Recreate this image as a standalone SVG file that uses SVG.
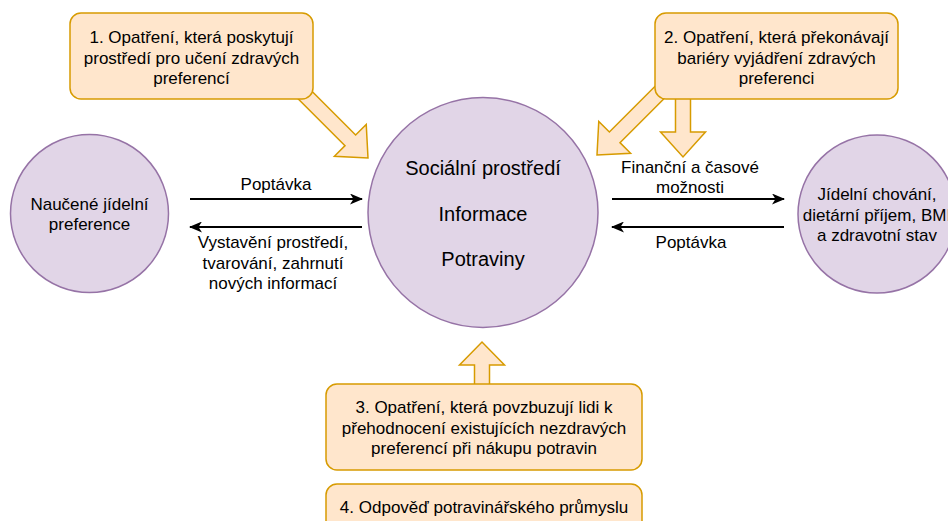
<svg xmlns="http://www.w3.org/2000/svg" width="948" height="521" viewBox="0 0 948 521">
<style>
  .circle { fill: #e1d5e7; stroke: #9673a6; stroke-width: 1.5; }
  .box { fill: #ffe6cc; stroke: #d79b00; stroke-width: 1.5; }
  .barrow { fill: #ffe6cc; stroke: #d79b00; stroke-width: 1.5; stroke-linejoin: miter; }
  .conn { fill: none; stroke: #000; stroke-width: 2; }
  text { font-family: "Liberation Sans", Arial, sans-serif; font-size: 17px; fill: #000; text-anchor: middle; }
  .big { font-size: 20px; }
</style>
<defs>
  <marker id="ah" markerUnits="userSpaceOnUse" markerWidth="13" markerHeight="11" viewBox="0 0 13 11" refX="12" refY="5.5" orient="auto">
    <path d="M0,0 L13,5.5 L0,11 L3.5,5.5 z" fill="#000"/>
  </marker>
  <polygon id="ba96" points="-96,-7.5 -25,-7.5 -25,-22.5 0,0 -25,22.5 -25,7.5 -96,7.5"/>
</defs>

<g id="block-arrows">
  <polygon class="barrow" transform="translate(368,158) rotate(45)" points="-96,-7.5 -25,-7.5 -25,-22.5 0,0 -25,22.5 -25,7.5 -96,7.5"/>
  <polygon class="barrow" transform="translate(597,155) rotate(135)" points="-96,-7.5 -25,-7.5 -25,-22.5 0,0 -25,22.5 -25,7.5 -96,7.5"/>
  <polygon class="barrow" transform="translate(683,157) rotate(90)" points="-67,-7.5 -25,-7.5 -25,-22.5 0,0 -25,22.5 -25,7.5 -67,7.5"/>
  <polygon class="barrow" transform="translate(482,342) rotate(-90)" points="-48,-7.5 -23,-7.5 -23,-22.5 0,0 -23,22.5 -23,7.5 -48,7.5"/>
</g>

<g id="box1">
  <rect class="box" x="70" y="13" width="243" height="86" rx="11"/>
  <text x="191.5" y="43">1. Opatření, která poskytují</text>
  <text x="191.5" y="63.5">prostředí pro učení zdravých</text>
  <text x="191.5" y="84">preferencí</text>
</g>

<g id="box2">
  <rect class="box" x="655" y="13" width="243" height="86" rx="11"/>
  <text x="776.5" y="43">2. Opatření, která překonávají</text>
  <text x="776.5" y="63.5">bariéry vyjádření zdravých</text>
  <text x="776.5" y="84">preferenci</text>
</g>

<g id="box3">
  <rect class="box" x="326" y="384" width="316" height="86" rx="11"/>
  <text x="484" y="413">3. Opatření, která povzbuzují lidi k</text>
  <text x="484" y="433.5">přehodnocení existujících nezdravých</text>
  <text x="484" y="454">preferencí při nákupu potravin</text>
</g>

<g id="box4">
  <rect class="box" x="326" y="484" width="316" height="60" rx="11"/>
  <text x="484" y="513">4. Odpověď potravinářského průmyslu</text>
</g>

<g id="node-left">
  <circle class="circle" cx="89.5" cy="213.5" r="79"/>
  <text x="89.5" y="210">Naučené jídelní</text>
  <text x="89.5" y="230">preference</text>
</g>

<g id="node-center">
  <circle class="circle" cx="483" cy="212.5" r="115"/>
  <text class="big" x="483" y="175">Sociální prostředí</text>
  <text class="big" x="483" y="221">Informace</text>
  <text class="big" x="483" y="266">Potraviny</text>
</g>

<g id="node-right">
  <circle class="circle" cx="877" cy="214" r="79"/>
  <text x="877" y="200">Jídelní chování,</text>
  <text x="877" y="220.5">dietární příjem, BMI</text>
  <text x="877" y="241">a zdravotní stav</text>
</g>

<g id="connectors">
  <line class="conn" x1="190" y1="199" x2="362" y2="199" marker-end="url(#ah)"/>
  <line class="conn" x1="362" y1="227" x2="190" y2="227" marker-end="url(#ah)"/>
  <line class="conn" x1="612" y1="199" x2="784" y2="199" marker-end="url(#ah)"/>
  <line class="conn" x1="784" y1="227" x2="612" y2="227" marker-end="url(#ah)"/>
  <text x="276" y="190">Poptávka</text>
  <text x="273" y="248">Vystavění prostředí,</text>
  <text x="273" y="268.5">tvarování, zahrnutí</text>
  <text x="273" y="289">nových informací</text>
  <text x="690" y="173">Finanční a časové</text>
  <text x="690" y="193">možnosti</text>
  <text x="691" y="248">Poptávka</text>
</g>
</svg>
